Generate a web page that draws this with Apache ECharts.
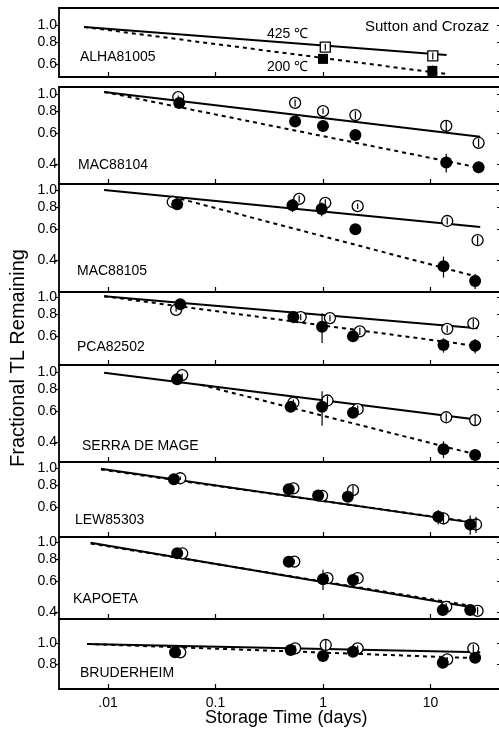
<!DOCTYPE html>
<html>
<head>
<meta charset="utf-8">
<script src="https://cdn.jsdelivr.net/npm/echarts@6/dist/echarts.min.js"></script>
<style>html,body{margin:0;background:#fff}#main{width:499px;height:734px}</style>
</head>
<body>
<div id="main"></div>
<script>
// panels, top to bottom
var panelNames = ['ALHA81005', 'MAC88104', 'MAC88105', 'PCA82502', 'SERRA DE MAGE', 'LEW85303', 'KAPOETA', 'BRUDERHEIM'];
var xTicks = [0.01, 0.1, 1, 10];
var yTicks = [
    [0.6, 0.8, 1.0], [0.4, 0.6, 0.8, 1.0], [0.4, 0.6, 0.8, 1.0], [0.6, 0.8, 1.0],
    [0.4, 0.6, 0.8, 1.0], [0.6, 0.8, 1.0], [0.4, 0.6, 0.8, 1.0], [0.8, 1.0]
];
var yRange = [
    [0.508, 1.247], [0.31, 1.095], [0.265, 1.081], [0.413, 1.067],
    [0.31, 1.095], [0.408, 1.081], [0.367, 1.067], [0.614, 1.29]
];

// 425 C (open) points: [days, fraction, error]
var open425 = [
    [[1.05, 0.75, 0.03], [10.5, 0.668, 0.03]],
    [[0.045, 0.96, 0.02], [0.55, 0.89, 0.04], [1.0, 0.80, 0.03], [2.0, 0.76, 0.04], [14, 0.66, 0.05], [28, 0.53, 0.03]],
    [[0.040, 0.855, 0.02], [0.60, 0.89, 0.04], [1.05, 0.845, 0.04], [2.1, 0.81, 0.03], [14.3, 0.668, 0.03], [27.4, 0.52, 0.03]],
    [[0.043, 0.845, 0.02], [0.62, 0.77, 0.03], [1.16, 0.76, 0.03], [2.2, 0.64, 0.03], [14.3, 0.66, 0.03], [25, 0.71, 0.04]],
    [[0.049, 0.96, 0.02], [0.53, 0.67, 0.03], [1.1, 0.69, 0.04], [2.1, 0.616, 0.03], [14, 0.555, 0.03], [26, 0.535, 0.04]],
    [[0.047, 0.875, 0.02], [0.53, 0.768, 0.02], [0.98, 0.697, 0.03], [1.9, 0.75, 0.05], [13.2, 0.52, 0.04], [26.5, 0.48, 0.05]],
    [[0.049, 0.863, 0.02], [0.54, 0.774, 0.02], [1.1, 0.624, 0.03], [2.1, 0.624, 0.02], [14, 0.43, 0.02], [27.4, 0.408, 0.02]],
    [[0.047, 0.906, 0.02], [0.55, 0.945, 0.03], [1.06, 0.979, 0.05], [2.1, 0.945, 0.03], [14.3, 0.841, 0.02], [25, 0.945, 0.04]]
];
// 200 C (filled) points
var filled200 = [
    [[1.0, 0.643, 0.04], [10.4, 0.55, 0.04]],
    [[0.046, 0.89, 0.05], [0.55, 0.70, 0.04], [1.0, 0.66, 0.05], [2.0, 0.587, 0.04], [14, 0.41, 0.05], [28, 0.386, 0.03]],
    [[0.044, 0.83, 0.03], [0.52, 0.82, 0.07], [0.97, 0.78, 0.07], [2.0, 0.60, 0.03], [13.2, 0.37, 0.05], [26, 0.306, 0.03]],
    [[0.047, 0.91, 0.03], [0.53, 0.77, 0.06], [0.98, 0.68, 0.13], [1.9, 0.60, 0.03], [13.2, 0.535, 0.05], [26, 0.53, 0.05]],
    [[0.044, 0.91, 0.03], [0.5, 0.637, 0.04], [0.98, 0.637, 0.14], [1.9, 0.589, 0.03], [13.2, 0.366, 0.04], [26, 0.34, 0.02]],
    [[0.041, 0.863, 0.02], [0.48, 0.758, 0.02], [0.90, 0.70, 0.04], [1.7, 0.688, 0.04], [11.8, 0.53, 0.05], [23.4, 0.48, 0.06]],
    [[0.044, 0.863, 0.03], [0.48, 0.774, 0.02], [1.0, 0.616, 0.08], [1.9, 0.61, 0.03], [13, 0.413, 0.02], [23.4, 0.413, 0.02]],
    [[0.042, 0.906, 0.02], [0.5, 0.929, 0.02], [1.0, 0.871, 0.02], [1.9, 0.912, 0.02], [13, 0.812, 0.02], [26, 0.855, 0.02]]
];
// fitted decay lines, [days, fraction] end points
var fit425 = [
    [[0.006, 0.974], [14.1, 0.677]], [[0.0092, 1.027], [29, 0.574]],
    [[0.0092, 1.0], [29, 0.618]], [[0.0092, 1.01], [27.4, 0.667]],
    [[0.0092, 0.99], [29, 0.535]], [[0.0086, 0.99], [27.4, 0.487]],
    [[0.0069, 0.99], [27.4, 0.422]], [[0.0064, 0.99], [29, 0.906]]
];
var fit200 = [
    [[0.006, 0.974], [14.1, 0.528]], [[0.0092, 1.027], [29, 0.382]],
    [[0.04, 0.915], [29, 0.32]], [[0.0092, 1.01], [27.4, 0.528]],
    [[0.073, 0.846], [27.4, 0.34]], [[0.0086, 0.98], [27.4, 0.49]],
    [[0.0069, 0.98], [27.4, 0.43]], [[0.0064, 0.99], [29, 0.85]]
];

var panelTop = [8, 87, 184, 292, 365, 462, 537, 619];
var panelBottom = [77, 184, 292, 365, 462, 537, 619, 689];
var nameY = [58, 166, 272, 348, 447, 521, 600, 674];
var nameX = [80, 78, 77, 77, 82, 75, 73, 80];

var FONT = 'Liberation Sans, Arial, Helvetica, sans-serif';
var chart = echarts.init(document.getElementById('main'));

var grids = [], xAxes = [], yAxes = [], series = [], graphics = [];

function errorBars(data, gi) {
    return {
        type: 'custom', xAxisIndex: gi, yAxisIndex: gi * 2, data: data, z: 5, silent: true,
        renderItem: function (params, api) {
            var t = api.value(0), v = api.value(1), e = api.value(2);
            var a = api.coord([t, v - e]), b = api.coord([t, v + e]);
            return {
                type: 'line',
                shape: { x1: a[0], y1: a[1], x2: b[0], y2: b[1] },
                style: { stroke: '#000', lineWidth: 1.2 }
            };
        }
    };
}

for (var i = 0; i < 8; i++) {
    grids.push({
        left: 59, width: 450, top: panelTop[i], height: panelBottom[i] - panelTop[i],
        outerBoundsMode: 'none', containLabel: false,
        show: true, borderColor: '#000', borderWidth: 1.8, backgroundColor: 'transparent'
    });
    xAxes.push({
        type: 'log', gridIndex: i, min: 0.0035, max: 53.7,
        axisLine: { show: false },
        axisTick: { show: true, inside: true, length: 5, customValues: xTicks, lineStyle: { color: '#000', width: 1.2 } },
        minorTick: { show: false },
        splitLine: { show: false },
        axisLabel: {
            show: i === 7, customValues: xTicks, margin: 7,
            color: '#000', fontSize: 14, fontFamily: FONT,
            formatter: function (v) { return Math.abs(v - 0.01) < 1e-9 ? '.01' : String(+v.toPrecision(3)); }
        }
    });
    yAxes.push({
        type: 'log', gridIndex: i, min: yRange[i][0], max: yRange[i][1],
        axisLine: { show: false },
        axisTick: { show: true, inside: false, length: 4, customValues: yTicks[i], lineStyle: { color: '#000', width: 1.2 } },
        minorTick: { show: false },
        splitLine: { show: false },
        axisLabel: {
            customValues: yTicks[i], margin: 2, color: '#000', fontSize: 14, fontFamily: FONT,
            formatter: function (v) { return (+v).toFixed(1); }
        }
    });
    // short marks at the right edge of the page
    yAxes.push({
        type: 'log', gridIndex: i, position: 'right', offset: -12, min: yRange[i][0], max: yRange[i][1],
        axisLine: { show: false },
        axisTick: { show: true, inside: false, length: 4, customValues: yTicks[i], lineStyle: { color: '#000', width: 1.2 } },
        minorTick: { show: false },
        splitLine: { show: false },
        axisLabel: { show: false }
    });

    var sym = i === 0 ? 'rect' : 'circle';
    series.push({
        type: 'line', xAxisIndex: i, yAxisIndex: i * 2, data: fit200[i], showSymbol: false, z: 2,
        lineStyle: { color: '#000', width: 2, type: [4, 4] }, silent: true
    });
    series.push({
        type: 'line', xAxisIndex: i, yAxisIndex: i * 2, data: fit425[i], showSymbol: false, z: 2,
        lineStyle: { color: '#000', width: 2 }, silent: true
    });
    series.push({
        type: 'scatter', xAxisIndex: i, yAxisIndex: i * 2, data: open425[i], symbol: sym,
        symbolSize: i === 0 ? 10 : 11, z: 3,
        itemStyle: { color: '#fff', borderColor: '#000', borderWidth: 1.3, opacity: 1 }
    });
    series.push({
        type: 'scatter', xAxisIndex: i, yAxisIndex: i * 2, data: filled200[i], symbol: sym,
        symbolSize: i === 0 ? 10 : 12, z: 4,
        itemStyle: { color: '#000', opacity: 1 }
    });
    series.push(errorBars(open425[i], i));
    series.push(errorBars(filled200[i], i));

    graphics.push({
        type: 'text', left: nameX[i], top: nameY[i] - 8, z: 10,
        style: { text: panelNames[i], font: '14px ' + FONT, fill: '#000' }
    });
}

graphics.push(
    { type: 'text', left: 365, top: 19, z: 10, style: { text: 'Sutton and Crozaz', font: '15px ' + FONT, fill: '#000' } },
    { type: 'text', left: 267, top: 27, z: 10, style: { text: '425 ℃', font: '14px ' + FONT, fill: '#000' } },
    { type: 'text', left: 267, top: 60, z: 10, style: { text: '200 ℃', font: '14px ' + FONT, fill: '#000' } },
    { type: 'text', left: 205, top: 709, z: 10, style: { text: 'Storage Time (days)', font: '18px ' + FONT, fill: '#000' } },
    {
        type: 'text', x: 18, y: 358, rotation: Math.PI / 2, z: 10,
        style: { text: 'Fractional TL Remaining', font: '20px ' + FONT, fill: '#000', align: 'center', verticalAlign: 'middle', textAlign: 'center', textVerticalAlign: 'middle' }
    }
);

var option = {
    animation: false,
    backgroundColor: '#fff',
    grid: grids,
    xAxis: xAxes,
    yAxis: yAxes,
    series: series,
    graphic: graphics
};
chart.setOption(option);
</script>
</body>
</html>
